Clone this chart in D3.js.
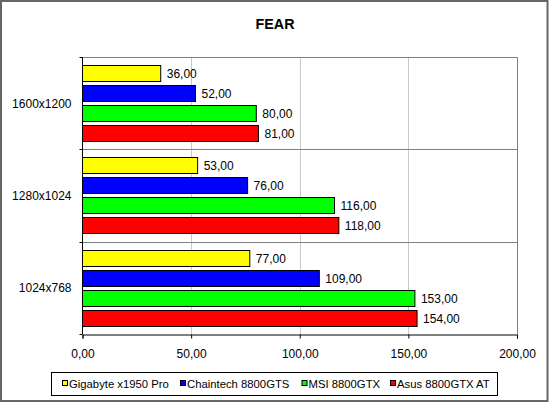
<!DOCTYPE html>
<html>
<head>
<meta charset="utf-8">
<script src="https://cdn.jsdelivr.net/npm/d3@7"></script>
<style>
  body { margin: 0; background: #fff; }
  svg { display: block; font-family: "Liberation Sans", Arial, sans-serif; }
</style>
</head>
<body>
<script>
const w = 550;
const h = 403;

// chart data
const categories = ["1600x1200", "1280x1024", "1024x768"];
const seriesNames = ["Gigabyte x1950 Pro", "Chaintech 8800GTS", "MSI 8800GTX", "Asus 8800GTX AT"];
const seriesColors = ["#ffff00", "#0000ff", "#00ff00", "#ff0000"];
const gigabyte = [36, 53, 77];
const chaintech = [52, 76, 109];
const msi = [80, 116, 153];
const asus = [81, 118, 154];
const xTicks = [0, 50, 100, 150, 200];

const seriesValues = [gigabyte, chaintech, msi, asus];

// plot area
const plotLeft = 82.5, plotRight = 517, plotTop = 57, plotBottom = 334;

const svg = d3.select("body")
    .append("svg")
    .attr("width", w)
    .attr("height", h);

// outer frame
svg.append("rect")
    .attr("x", 1).attr("y", 1)
    .attr("width", w - 3.5).attr("height", h - 3)
    .attr("fill", "#fff")
    .attr("stroke", "#666")
    .attr("stroke-width", 2);

svg.append("text")
    .attr("x", 275)
    .attr("y", 29)
    .attr("text-anchor", "middle")
    .attr("font-size", 14.3)
    .attr("font-weight", "bold")
    .text("FEAR");

const xScale = d3.scaleLinear().domain([0, 200]).range([plotLeft, plotRight]);
const yScale = d3.scaleBand().domain(categories).range([plotTop, plotBottom]);
const inner = d3.scaleBand().domain(seriesNames).range([8, 85]).paddingInner(0.15);

// gridlines
svg.append("g")
    .selectAll("line")
    .data(xTicks.slice(1, -1))
    .enter()
    .append("line")
    .attr("x1", d => Math.round(xScale(d)) + 0.5)
    .attr("x2", d => Math.round(xScale(d)) + 0.5)
    .attr("y1", plotTop)
    .attr("y2", plotBottom)
    .attr("stroke", "#c8c8c8");

// category separators
svg.append("g")
    .selectAll("line")
    .data(categories.slice(1))
    .enter()
    .append("line")
    .attr("x1", plotLeft)
    .attr("x2", plotRight)
    .attr("y1", d => Math.round(yScale(d)) + 0.5)
    .attr("y2", d => Math.round(yScale(d)) + 0.5)
    .attr("stroke", "#808080");

// plot border (top and right)
svg.append("path")
    .attr("d", `M${plotLeft},${plotTop + 0.5}H${plotRight + 0.5}V${plotBottom}`)
    .attr("fill", "none")
    .attr("stroke", "#808080");

// bars
const barData = categories.flatMap((c, ci) =>
    seriesNames.map((s, si) => ({ cat: c, series: s, idx: si, value: seriesValues[si][ci] })));

const fmt = v => d3.format(".2f")(v).replace(".", ",");

svg.append("g")
    .selectAll("rect")
    .data(barData)
    .enter()
    .append("rect")
    .attr("x", xScale(0))
    .attr("y", d => Math.round(yScale(d.cat) + inner(d.series)) + 0.5)
    .attr("width", d => xScale(d.value) - xScale(0))
    .attr("height", inner.bandwidth() - 1)
    .attr("fill", d => seriesColors[d.idx])
    .attr("stroke", "#000");

svg.append("g")
    .selectAll("text")
    .data(barData)
    .enter()
    .append("text")
    .attr("x", d => xScale(d.value) + 6)
    .attr("y", d => yScale(d.cat) + inner(d.series) + inner.bandwidth() / 2 + 4.5)
    .attr("font-size", 12)
    .text(d => fmt(d.value));

// left axis
const yAxis = svg.append("g")
    .attr("transform", `translate(${plotLeft},0)`);
yAxis.append("line")
    .attr("x1", 0).attr("x2", 0)
    .attr("y1", plotTop).attr("y2", plotBottom)
    .attr("stroke", "#000");
yAxis.selectAll(".tk")
    .data([...categories.map(c => yScale(c)), plotBottom])
    .enter()
    .append("line")
    .attr("class", "tk")
    .attr("x1", -3).attr("x2", 0)
    .attr("y1", d => Math.round(d) + 0.5)
    .attr("y2", d => Math.round(d) + 0.5)
    .attr("stroke", "#000");
yAxis.selectAll("text")
    .data(categories)
    .enter()
    .append("text")
    .attr("x", -11)
    .attr("y", d => yScale(d) + yScale.bandwidth() / 2 + 4.5)
    .attr("text-anchor", "end")
    .attr("font-size", 12)
    .text(d => d);

// bottom axis
const xAxis = d3.axisBottom(xScale)
    .tickValues(xTicks)
    .tickSize(4)
    .tickPadding(11)
    .tickFormat(fmt);

svg.append("g")
    .attr("transform", `translate(0,${plotBottom + 0.5})`)
    .call(xAxis)
    .call(g => g.select(".domain").attr("stroke", "#000"))
    .call(g => g.selectAll("text")
        .attr("font-family", "Liberation Sans, Arial, sans-serif")
        .attr("font-size", 12)
        .attr("fill", "#000"));

// legend
const legendX = [62, 180, 301.5, 390];
svg.append("rect")
    .attr("x", 51.5).attr("y", 372.5)
    .attr("width", 446).attr("height", 23)
    .attr("fill", "#fff")
    .attr("stroke", "#000");

const legend = svg.append("g")
    .selectAll("g")
    .data(seriesNames)
    .enter()
    .append("g")
    .attr("transform", (d, i) => `translate(${legendX[i]},0)`);

legend.append("rect")
    .attr("x", 0.5).attr("y", 380.5)
    .attr("width", 5).attr("height", 5)
    .attr("fill", (d, i) => seriesColors[i])
    .attr("stroke", "#000");

legend.append("text")
    .attr("x", 7)
    .attr("y", 388)
    .attr("font-size", 11.3)
    .text(d => d);
</script>
</body>
</html>
